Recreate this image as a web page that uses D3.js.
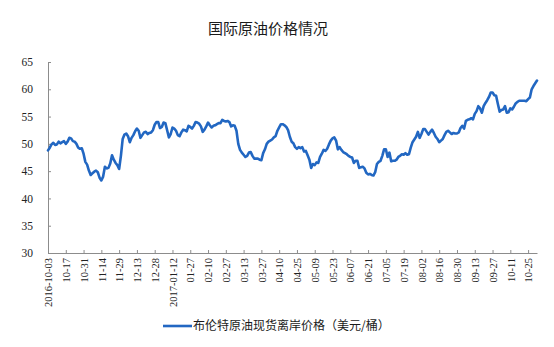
<!DOCTYPE html>
<html>
<head>
<meta charset="utf-8">
<script src="https://cdn.jsdelivr.net/npm/d3@7"></script>
<style>
  html, body { margin: 0; padding: 0; background: #fff; }
  svg { display: block; }
</style>
</head>
<body>
<svg id="chart" width="554" height="347"></svg>
<script>
// Brent spot FOB price, USD per barrel, one value per trading day
const prices = [
  48.8, 49.3, 49.9, 50.2, 49.8, 49.9, 50.4, 50.1, 50.3, 50.5,
  50.0, 50.4, 51.1, 51.0, 50.5, 50.4, 50.0, 49.3, 49.1, 49.2,
  48.2, 46.7, 46.2, 45.1, 44.3, 44.6, 44.9, 45.1, 44.8, 43.8,
  43.3, 44.0, 45.8, 45.5, 45.6, 46.4, 47.9, 47.1, 46.5, 46.1,
  45.4, 47.8, 50.9, 51.7, 51.9, 51.4, 50.3, 51.1, 51.6, 52.3,
  52.8, 52.4, 51.1, 51.6, 52.1, 52.2, 51.8, 52.0, 52.1, 52.5,
  53.5, 54.0, 54.0, 52.9, 53.1, 53.9, 53.8, 52.5, 51.2, 51.8,
  53.0, 52.8, 52.4, 51.6, 51.4, 52.1, 52.6, 52.5, 52.3, 53.3,
  53.1, 52.8, 53.3, 54.0, 53.9, 53.7, 53.2, 52.2, 52.6, 53.2,
  53.9, 53.4, 53.0, 53.3, 53.4, 53.6, 53.8, 53.8, 54.4, 54.2,
  54.1, 54.2, 54.0, 53.2, 53.4, 53.3, 52.4, 50.0, 48.9, 48.4,
  48.0, 47.6, 47.8, 48.4, 48.5, 47.8, 47.3, 47.3, 47.3, 47.1,
  47.0, 48.3, 49.0, 50.0, 50.4, 50.6, 50.8, 51.2, 51.4, 52.4,
  53.0, 53.6, 53.6, 53.4, 53.1, 52.5, 51.3, 50.4, 50.1, 49.4,
  49.1, 49.4, 49.2, 49.4, 48.6, 48.7, 47.9, 47.1, 45.6, 46.3,
  46.1, 46.6, 46.5, 47.6, 48.2, 48.9, 48.7, 49.1, 49.9, 50.6,
  51.0, 51.2, 50.6, 49.0, 49.4, 48.9, 48.5, 48.3, 48.1, 47.8,
  47.6, 47.5, 46.5, 46.9, 46.9, 45.6, 45.7, 45.8, 45.5, 44.7,
  44.4, 44.5, 44.3, 44.2, 44.8, 46.3, 46.7, 46.9, 47.8, 49.0,
  49.0, 47.6, 48.4, 46.8, 46.9, 46.9, 47.1, 47.6, 47.8, 48.1,
  48.0, 48.3, 48.0, 48.1, 49.3, 50.3, 50.8, 51.3, 52.2, 51.1,
  51.8, 52.7, 52.7, 52.2, 51.7, 52.2, 52.6, 52.0, 51.3, 50.9,
  50.3, 50.6, 50.9, 51.6, 52.2, 52.4, 52.1, 51.8, 52.0, 51.9,
  51.9, 52.1, 52.9, 53.3, 52.8, 54.2, 54.4, 54.5, 54.7, 54.5,
  55.5, 56.0, 56.9, 56.5, 55.7, 56.9, 57.5, 58.0, 58.6, 59.4,
  59.4, 58.9, 58.8, 57.3, 55.9, 56.2, 56.3, 56.9, 55.7, 55.8,
  56.5, 56.3, 56.8, 57.4, 57.7, 57.9, 57.9, 57.9, 57.9, 57.8,
  58.2, 58.5, 60.0, 60.6, 61.1, 61.6
];

// Date labels shown under every 10th trading day
const tickLabels = [
  "2016-10-03", "10-17", "10-31", "11-14", "11-29", "12-13", "12-28",
  "2017-01-12", "01-27", "02-10", "02-27", "03-13", "03-27", "04-10",
  "04-25", "05-09", "05-23", "06-07", "06-21", "07-05", "07-19",
  "08-02", "08-16", "08-30", "09-13", "09-27", "10-11", "10-25"
];
const labelStep = 10;

const yTicks = [30, 35, 40, 45, 50, 55, 60, 65];

const titleText = "国际原油价格情况";
const seriesName = "布伦特原油现货离岸价格（美元/桶）";

const margin = { left: 48, right: 17, top: 62, bottom: 94 };
const W = 554, H = 347;

const svg = d3.select("#chart");

const x = d3.scaleLinear()
  .domain([0, prices.length - 1])
  .range([margin.left, W - margin.right]);

const y = d3.scaleLinear()
  .domain([30, 65])
  .range([H - margin.bottom, margin.top]);

const axisColor = "#8c8c8c";
const lineColor = "#2267c2";

// Title
svg.append("text")
  .attr("x", 268)
  .attr("y", 34)
  .attr("text-anchor", "middle")
  .attr("font-family", "'Noto Sans CJK SC', sans-serif")
  .attr("font-size", 15)
  .attr("fill", "#1a1a1a")
  .text(titleText);

// Y axis
const yAxis = d3.axisLeft(y)
  .tickValues(yTicks)
  .tickSizeInner(-3)
  .tickSizeOuter(0)
  .tickPadding(15);

const gy = svg.append("g")
  .attr("transform", `translate(${margin.left},0)`)
  .call(yAxis);
gy.select(".domain").attr("stroke", axisColor);
gy.selectAll(".tick line").attr("stroke", axisColor);
gy.selectAll(".tick text")
  .attr("font-family", "'Liberation Serif', 'Times New Roman', serif")
  .attr("font-size", 11.5)
  .attr("fill", "#222");

// X axis: ticks at each labelled trading day
const tickIdx = tickLabels.map((_, i) => i * labelStep);
const xAxis = d3.axisBottom(x)
  .tickValues(tickIdx)
  .tickFormat((d, i) => tickLabels[i])
  .tickSizeInner(-3)
  .tickSizeOuter(0);

const gx = svg.append("g")
  .attr("transform", `translate(0,${y(30)})`)
  .call(xAxis);
gx.select(".domain").attr("stroke", axisColor);
gx.selectAll(".tick line").attr("stroke", axisColor);
gx.selectAll(".tick text")
  .attr("font-family", "'Liberation Serif', 'Times New Roman', serif")
  .attr("font-size", 10.5)
  .attr("fill", "#222")
  .attr("text-anchor", "end")
  .attr("transform", "rotate(-90)")
  .attr("x", -5)
  .attr("y", 0)
  .attr("dy", "0.35em");

// Price line
const line = d3.line()
  .x((d, i) => x(i))
  .y(d => y(d))
  .curve(d3.curveLinear);

svg.append("path")
  .datum(prices)
  .attr("fill", "none")
  .attr("stroke", lineColor)
  .attr("stroke-width", 2.6)
  .attr("stroke-linejoin", "round")
  .attr("stroke-linecap", "round")
  .attr("d", line);

// Legend
const legend = svg.append("g").attr("transform", "translate(163,326)");
legend.append("line")
  .attr("x1", 0).attr("x2", 29)
  .attr("y1", 0).attr("y2", 0)
  .attr("stroke", lineColor)
  .attr("stroke-width", 2.6);
legend.append("text")
  .attr("x", 30)
  .attr("y", 0)
  .attr("dy", "0.36em")
  .attr("font-family", "'Noto Sans CJK SC', sans-serif")
  .attr("font-size", 12)
  .attr("fill", "#1a1a1a")
  .text(seriesName);
</script>
</body>
</html>
